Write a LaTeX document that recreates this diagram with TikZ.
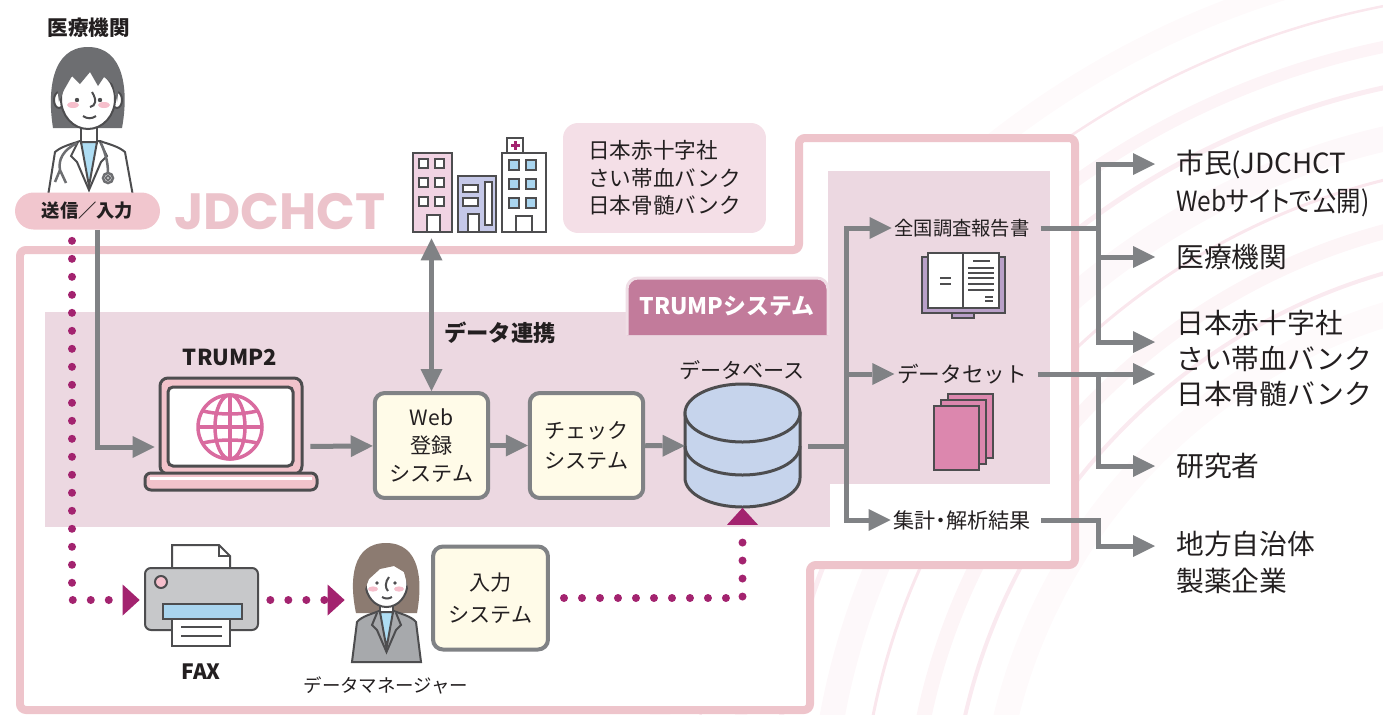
\documentclass[tikz,border=0pt]{standalone}
\usepackage{fontspec}
\setmainfont{Noto Sans CJK JP}
\newfontfamily\paltfont{Noto Sans CJK JP}[RawFeature=+palt]
\newfontfamily\narrowfont{Noto Sans CJK JP}[FakeStretch=0.88,RawFeature=+palt]
\newfontfamily\logofont{Poppins}
\usetikzlibrary{arrows.meta,positioning}

\definecolor{ink}{HTML}{231F20}
\definecolor{outline}{HTML}{4D4D4F}
\definecolor{arrowgray}{HTML}{808285}
\definecolor{framepink}{HTML}{EEC4CB}
\definecolor{bandpink}{HTML}{ECD8E1}
\definecolor{tabrose}{HTML}{C27B9B}
\definecolor{notepink}{HTML}{F4DFE7}
\definecolor{pillpink}{HTML}{F1C6CE}
\definecolor{logopink}{HTML}{ECC3CB}
\definecolor{boxcream}{HTML}{FFFBE8}
\definecolor{dotmagenta}{HTML}{A3236F}
\definecolor{dbblue}{HTML}{C6D4EC}
\definecolor{globepink}{HTML}{D96B9F}
\definecolor{lappink}{HTML}{F2C3CB}
\definecolor{skyblue}{HTML}{AEDDF3}
\definecolor{winblue}{HTML}{A9D5EF}
\definecolor{hairgray}{HTML}{6D6E71}
\definecolor{hairbrown}{HTML}{8C7B71}
\definecolor{suitgray}{HTML}{A7A9AC}
\definecolor{printgray}{HTML}{C7C8CA}
\definecolor{cheek}{HTML}{F6BFCC}
\definecolor{bldgpink}{HTML}{F1D3E3}
\definecolor{bldgblue}{HTML}{C5C8E8}
\definecolor{bookpurple}{HTML}{B9A0C8}
\definecolor{datapink}{HTML}{DC87AE}
\definecolor{streak}{HTML}{F0B9CC}

\tikzset{
  gtip/.tip={Triangle[length=0.44cm,width=0.44cm,line width=0pt]},
  mtip/.tip={Triangle[length=0.34cm,width=0.62cm,line width=0pt]},
  flow/.style={draw=arrowgray, line width=0.1cm, -gtip},
  flowboth/.style={draw=arrowgray, line width=0.1cm, gtip-gtip},
  trunk/.style={draw=arrowgray, line width=0.1cm},
  dotflow/.style={draw=dotmagenta, line width=0.16cm, line cap=round,
    dash pattern=on 0pt off 0.36cm, -mtip},
  sysbox/.style={draw=arrowgray, line width=0.08cm, fill=boxcream,
    rounded corners=0.2cm, minimum width=2.27cm, minimum height=2.1cm,
    align=center, text=ink},
  icon/.style={inner sep=0pt},
  iconline/.style={draw=outline, line width=0.04cm},
  boldlbl/.style={text=ink, inner sep=0.05cm, font=\bfseries\fontsize{11.7}{14}\selectfont},
  midlbl/.style={text=ink, inner sep=0.05cm},
  outlbl/.style={text=ink, inner xsep=0.42cm, inner ysep=0pt, anchor=west,
    align=left, font=\fontsize{15.8}{20.2}\selectfont},
}

\begin{document}
\begin{tikzpicture}[x=0.02cm, y=-0.02cm]
\useasboundingbox (0,0) rectangle (1383,714);

\begin{scope}
  \clip (0,0) rectangle (1383,714);
  \foreach \rad/\wid/\op in {560/0.5cm/0.08, 600/0.08cm/0.3, 640/0.3cm/0.15,
      690/0.06cm/0.35, 730/0.5cm/0.1, 780/0.1cm/0.25, 820/0.24cm/0.16,
      860/0.05cm/0.35, 900/0.4cm/0.08}
    \draw[streak, line width=\wid, opacity=\op] (1550,850) circle (\rad);
\end{scope}

\filldraw[fill=white, draw=framepink, line width=0.16cm, rounded corners=0.12cm]
  (20,250) -- (799,250) -- (799,138) -- (1075,138) -- (1075,565)
  -- (810,565) -- (810,710) -- (20,710) -- cycle;

\fill[bandpink] (45,312) rectangle (830,527);
\fill[bandpink] (828,171) rectangle (1050,484);

\filldraw[fill=tabrose, draw=white!75!tabrose, line width=0.06cm, rounded corners=0.22cm]
  (627,335) -- (627,278) -- (828,278) -- (828,335);
\node[text=white, font=\bfseries\fontsize{13}{15}\selectfont] (trump) at (727,306) {TRUMPシステム};

\fill[hairgray] (53,128) .. controls (47,90) and (52,47) .. (88,47) .. controls (124,47) and (129,90) .. (122,128) -- cycle;
\filldraw[fill=white, iconline] (48,196) -- (55,152) .. controls (62,146) and (72,144) .. (80,141)
  -- (100,141) .. controls (108,144) and (118,146) .. (125,152) -- (133,196) -- cycle;
\filldraw[fill=white, iconline] (81,122) rectangle (97,143);
\filldraw[fill=skyblue, iconline] (81,142) -- (89,186) -- (97,142) -- cycle;
\draw[iconline] (78,142) -- (71,156) -- (77,162) -- (89,190) -- (101,162) -- (107,156) -- (100,142);
\filldraw[fill=white, iconline] (59,100) ellipse[x radius=5, y radius=8];
\filldraw[fill=white, iconline] (117,100) ellipse[x radius=5, y radius=8];
\filldraw[fill=white, iconline] (88,99) ellipse[x radius=27, y radius=30];
\fill[hairgray] (59,102) .. controls (54,70) and (64,52) .. (88,52) .. controls (112,52) and (122,70) .. (117,102)
  -- (113,84) -- (104,77) -- (98,86) -- (90,72) -- (80,84) -- (72,76) -- (64,90) -- cycle;
\fill[outline] (77,100) circle[radius=2.2];
\fill[outline] (100,100) circle[radius=2.2];
\fill[cheek] (73,105) ellipse[x radius=6, y radius=3];
\fill[cheek] (104,105) ellipse[x radius=6, y radius=3];
\draw[iconline] (92,92) .. controls (97,100) and (96,106) .. (90,107);
\draw[iconline] (83,116) .. controls (87,119) and (92,119) .. (96,116);
\draw[hairgray, line width=0.05cm] (77,143) .. controls (63,150) and (58,160) .. (60,170)
  -- (55,182) (60,170) -- (66,183) (101,143) .. controls (106,155) and (108,163) .. (108,173);
\filldraw[fill=white, draw=hairgray, line width=0.05cm] (108,178) circle[radius=5];
\draw[hairgray, line width=0.04cm] (108,178) circle[radius=2];
\node[boldlbl] (doctor) at (89,28) {医療機関};
\node[fill=pillpink, rounded corners=0.37cm, minimum width=2.9cm, minimum height=0.74cm,
  boldlbl, font=\bfseries\fontsize{10.4}{12}\selectfont] (send) at (87.5,211) {送信／入力};
\node[text=logopink, font=\logofont\bfseries\fontsize{29}{30}\selectfont] (logo) at (280,212) {JDCHCT};

\filldraw[fill=bldgpink, iconline] (413,153) rectangle (452,232);
\foreach \wx in {419,435} \foreach \wy in {159,178,197}
  \filldraw[fill=white, iconline] (\wx,\wy) rectangle ++(9,9);
\filldraw[fill=white, iconline] (427,215) rectangle (440,232);
\filldraw[fill=bldgblue, iconline] (458,176) rectangle (496,232);
\filldraw[fill=white, iconline] (463,185) rectangle (478,192);
\filldraw[fill=white, iconline] (463,198) rectangle (478,206);
\filldraw[fill=white, iconline] (485,182) rectangle (492,225);
\filldraw[fill=white, iconline] (468,214) rectangle (479,232);
\filldraw[fill=white, iconline] (502,153) rectangle (546,232);
\foreach \wx in {509,526} \foreach \wy in {160,179,198}
  \filldraw[fill=winblue, iconline] (\wx,\wy) rectangle ++(10,10);
\filldraw[fill=white, iconline] (516,216) rectangle (532,232);
\filldraw[fill=white, iconline] (507,138) rectangle (523,153);
\fill[dotmagenta] (513.5,141) rectangle (516.5,150);
\fill[dotmagenta] (510.5,144) rectangle (519.5,147);
\node[icon, minimum width=2.66cm, minimum height=1.88cm] (bldg) at (479.5,185) {};

\node[fill=notepink, rounded corners=0.3cm, minimum width=4.06cm, minimum height=2.2cm,
  align=left, text=ink, font=\fontsize{12.3}{15.6}\selectfont] (banksnote) at (664.5,178)
  {日本赤十字社\\さい帯血バンク\\日本骨髄バンク};

\node[boldlbl, font=\bfseries\fontsize{12.5}{15}\selectfont] (trumptwo) at (230,357) {TRUMP2};
\filldraw[fill=lappink, draw=outline, line width=0.06cm, rounded corners=0.16cm] (160,378) rectangle (302,474);
\filldraw[fill=white, draw=outline, line width=0.06cm, rounded corners=0.1cm] (168,387) rectangle (293,466);
\filldraw[fill=lappink, draw=outline, line width=0.06cm, rounded corners=0.12cm] (145,473) rectangle (317,490);
\fill[white] (150,477) rectangle (312,480);
\begin{scope}[draw=globepink, line width=0.07cm]
  \draw (230,427) circle[radius=32];
  \draw (230,427) ellipse[x radius=15, y radius=32];
  \draw (230,395) -- (230,459);
  \draw (198,427) -- (262,427);
  \draw (203,411) .. controls (220,415) and (240,415) .. (257,411);
  \draw (203,443) .. controls (220,439) and (240,439) .. (257,443);
\end{scope}
\node[icon, minimum width=3.1cm, minimum height=1.72cm] (laptop) at (232.5,447) {};

\node[sysbox, font=\fontsize{12}{16}\selectfont] (web) at (431.5,445.5) {Web\\登録\\システム};
\node[sysbox, font=\fontsize{12}{17}\selectfont] (check) at (586.5,445.5) {チェック\\システム};
\node[boldlbl, font=\bfseries\fontsize{12.7}{15}\selectfont] (sync) at (500,333) {データ連携};

\filldraw[fill=dbblue, draw=outline, line width=0.06cm] (685,413) -- (685,478)
  arc[start angle=180, end angle=0, x radius=57.5, y radius=29] -- (800,413) -- cycle;
\filldraw[fill=dbblue, draw=outline, line width=0.06cm] (742.5,413) ellipse[x radius=57.5, y radius=29];
\draw[outline, line width=0.06cm] (685,446) arc[start angle=180, end angle=0, x radius=57.5, y radius=29];
\node[icon, minimum width=2.3cm, minimum height=2.46cm] (db) at (742.5,446) {};
\node[midlbl, font=\fontsize{12}{14}\selectfont] (dblbl) at (742,370) {データベース};

\filldraw[fill=bookpurple, iconline] (922,257) rectangle (1005,313);
\filldraw[fill=bookpurple, iconline] (952,313) rectangle (974,318);
\filldraw[fill=white, iconline] (928,253) rectangle (999,308);
\draw[iconline] (963,253) -- (963,308);
\foreach \yy in {278,284} \draw[iconline] (940,\yy) -- (951,\yy);
\draw[iconline] (973,261) -- (990,261);
\foreach \yy in {268,273,278,284,290} \draw[iconline] (968,\yy) -- (994,\yy);
\foreach \yy in {297,301} \draw[iconline] (985,\yy) -- (993,\yy);
\foreach \px/\py in {948/394, 941/400, 934/406}
  \filldraw[fill=datapink, iconline] (\px,\py) rectangle ++(45,64);

\node[midlbl, font=\fontsize{11}{13}\selectfont] (report) at (962,228) {全国調査報告書};
\node[midlbl, font=\fontsize{12.3}{14}\selectfont] (dataset) at (962,374) {データセット};
\node[midlbl, font=\paltfont\fontsize{12}{13}\selectfont] (results) at (962,520) {集計・解析結果};

\node[outlbl, font=\fontsize{15.8}{22}\selectfont] (citizen) at (1155,183.5)
  {市民(JDCHCT\\{\narrowfont Webサイトで公開)}};
\node[outlbl] (hosp) at (1155,257) {医療機関};
\node[outlbl] (banks) at (1155,358.5) {日本赤十字社\\さい帯血バンク\\日本骨髄バンク};
\node[outlbl] (research) at (1155,466) {研究者};
\node[outlbl, font=\fontsize{15.8}{21}\selectfont] (local) at (1155,562.5) {地方自治体\\製薬企業};

\filldraw[fill=white, iconline] (172,583) -- (172,545) -- (219,545) -- (230,556) -- (230,583);
\draw[iconline] (219,545) -- (219,556) -- (230,556);
\filldraw[fill=printgray, iconline, rounded corners=0.12cm] (145,568) rectangle (258,630);
\filldraw[fill=cheek, iconline] (161,582) circle[radius=6];
\filldraw[fill=winblue, iconline] (163,604) rectangle (242,619);
\filldraw[fill=white, iconline] (172,619) rectangle (230,646);
\draw[iconline] (181,627) -- (222,627) (181,636) -- (222,636);
\node[icon, minimum width=2.44cm, minimum height=2.1cm] (fax) at (201,600) {};
\node[boldlbl, font=\bfseries\fontsize{12}{14}\selectfont] (faxlbl) at (201,672) {FAX};

\fill[hairbrown] (356,613) .. controls (349,580) and (352,543) .. (386,543) .. controls (420,543) and (423,580) .. (417,613) -- cycle;
\filldraw[fill=suitgray, iconline] (352,662) -- (357,622) .. controls (362,616) and (372,614) .. (379,611)
  -- (394,611) .. controls (401,614) and (411,616) .. (416,622) -- (421,662) -- cycle;
\filldraw[fill=white, iconline] (380,598) rectangle (393,613);
\filldraw[fill=skyblue, iconline] (380,612) -- (386.5,648) -- (393,612) -- cycle;
\draw[iconline] (377,613) -- (372,625) -- (377,630) -- (386.5,652) -- (396,630) -- (401,625) -- (396,613);
\filldraw[fill=white, iconline] (386.5,583) ellipse[x radius=21, y radius=24];
\fill[hairbrown] (364,592) .. controls (361,561) and (372,551) .. (386,551) .. controls (402,551) and (412,562) .. (409,592)
  -- (404,572) -- (394,566) -- (380,569) -- (369,579) -- cycle;
\fill[outline] (377,583) circle[radius=1.9];
\fill[outline] (395,583) circle[radius=1.9];
\fill[cheek] (373,589) ellipse[x radius=5, y radius=2.6];
\fill[cheek] (399,589) ellipse[x radius=5, y radius=2.6];
\draw[iconline] (389,577) .. controls (385,582) and (385,588) .. (388,591);
\draw[iconline] (382,597) .. controls (385,599) and (389,599) .. (392,597);
\node[icon, minimum width=1.66cm, minimum height=2.36cm] (mgr) at (386.5,600) {};
\node[midlbl, font=\fontsize{10.5}{12}\selectfont] (mgrlbl) at (386,685) {データマネージャー};

\node[sysbox, minimum width=2.3cm, minimum height=2.06cm, font=\fontsize{12}{18}\selectfont] (input) at (490.5,598) {入力\\システム};

\draw[flow] ([xshift=0.21cm]send.south) |- (laptop.west);
\draw[flow] (laptop) -- (web);
\draw[flow] (web) -- (check);
\draw[flow] (check) -- (db);
\draw[flowboth, shorten <=0.12cm] (web.north |- bldg.south) -- (web.north);

\coordinate (fork) at (846,446);
\draw[trunk, shorten <=0.16cm] (db.east) -- (fork);
\draw[flow] (fork) |- (report.west);
\draw[flow] (fork) |- (dataset.west);
\draw[flow] (fork) |- (results.west);

\coordinate (forkA) at (1098,228);
\coordinate (forkB) at (1098,374);
\coordinate (forkC) at (1098,520);
\draw[trunk, shorten <=0.16cm] (report.east) -- (forkA);
\draw[flow] (forkA) |- ([yshift=0.39cm]citizen.west);
\draw[flow] (forkA) |- (hosp.west);
\draw[flow] (forkA) |- ([yshift=0.33cm]banks.west);
\draw[trunk, shorten <=0.16cm] (dataset.east) -- (forkB);
\draw[flow] (forkB) |- ([yshift=-0.31cm]banks.west);
\draw[flow] (forkB) |- (research.west);
\draw[flow, shorten <=0.16cm] (results.east) -- (forkC) |- ([yshift=0.33cm]local.west);

\draw[dotflow] ([xshift=-0.31cm,yshift=-0.22cm]send.south) |- (fax.west);
\draw[dotflow, shorten <=0.16cm] (fax.east) -- (mgr.west);
\draw[dotflow, shorten <=0.28cm] (input.east) -| (db.south);
\end{tikzpicture}
\end{document}
